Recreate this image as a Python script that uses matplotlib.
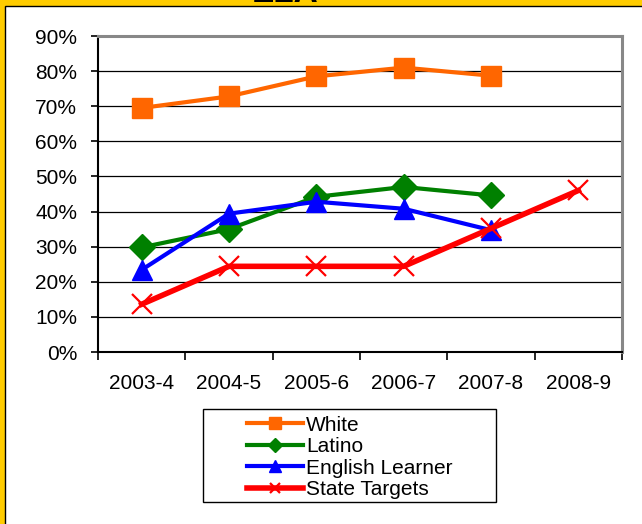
import matplotlib.pyplot as plt
from matplotlib.patches import Rectangle
from matplotlib.ticker import FixedLocator, PercentFormatter

plt.rcParams['font.family'] = ['Liberation Sans', 'DejaVu Sans']

years = ['2003-4', '2004-5', '2005-6', '2006-7', '2007-8', '2008-9']
white = [69.5, 72.8, 78.5, 81.0, 78.7]
latino = [29.8, 35.0, 44.2, 47.0, 44.6]
english_learner = [23.4, 39.4, 42.8, 40.8, 34.7]
state_targets = [13.6, 24.4, 24.4, 24.4, 35.2, 46.0]

W, H = 642, 524
fig = plt.figure(figsize=(W / 100, H / 100), dpi=100, facecolor='#FFCC00')

# white panel with black edge inside the yellow frame (top and left only visible)
fig.patches.append(Rectangle((4.5 / W, -0.1), 1.2, (H - 6.5) / H + 0.1,
                             transform=fig.transFigure, facecolor='white',
                             edgecolor='black', lw=1.0, zorder=-10))
fig.text(285 / W, 1 - 2 / H, 'ELA', ha='center', va='baseline',
         fontsize=24, fontweight='bold', color='black')

ax = fig.add_axes([98 / W, 1 - 352 / H, (622 - 98) / W, (352 - 36) / H])
ax.set_facecolor('white')

x = list(range(len(years)))
ax.plot(x[:5], white, color='#FF6600', lw=3, marker='s', ms=15,
        label='White', zorder=3)
ax.plot(x[:5], latino, color='#008000', lw=3, marker='D', ms=13,
        label='Latino', zorder=3)
ax.plot(x[:5], english_learner, color='#0000FF', lw=3, marker='^', ms=15,
        label='English Learner', zorder=4)
ax.plot(x, state_targets, color='#FF0000', lw=4, marker='x', ms=14, mew=1.6,
        label='State Targets', zorder=5)

ax.set_xlim(-0.5, 5.5)
ax.set_ylim(0, 90)
ax.set_yticks(range(0, 91, 10))
ax.yaxis.set_major_formatter(PercentFormatter(decimals=0))
ax.grid(axis='y', color='black', lw=0.9)
ax.set_axisbelow(True)

ax.set_xticks(x)
ax.set_xticklabels(years)
ax.xaxis.set_minor_locator(FixedLocator([i - 0.5 for i in range(7)]))
ax.tick_params(axis='x', which='major', length=0, pad=16, labelsize=15)
ax.tick_params(axis='x', which='minor', length=6, width=1.2, direction='out')
ax.tick_params(axis='y', length=5, width=1.2, pad=10, labelsize=15)

for side in ['left', 'bottom']:
    ax.spines[side].set_color('black')
    ax.spines[side].set_linewidth(1.5)
for side in ['top', 'right']:
    ax.spines[side].set_color('#888888')
    ax.spines[side].set_linewidth(2.2)

leg = fig.legend(loc='upper left', bbox_to_anchor=(232 / W, 1 - 401 / H),
                 frameon=False, fontsize=15, markerscale=0.55,
                 handlelength=2.7, handletextpad=0.15, labelspacing=0.12,
                 borderpad=0.2)
fig.patches.append(Rectangle((203 / W, 1 - 502 / H), (496 - 203) / W,
                             (502 - 409) / H, transform=fig.transFigure,
                             facecolor='none', edgecolor='black', lw=1.0))

fig.savefig('out.png', dpi=100, facecolor=fig.get_facecolor())
